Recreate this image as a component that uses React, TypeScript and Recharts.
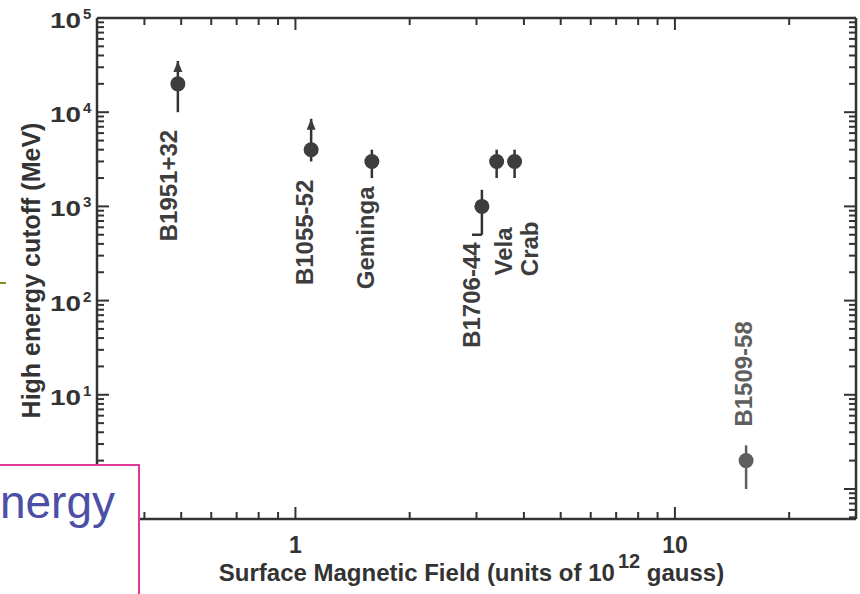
import { ScatterChart, Scatter, XAxis, YAxis, ErrorBar, ReferenceLine } from 'recharts'

// pulsars, surface field (1e12 G) and high-energy cutoff (MeV)
const pulsars = ['B1951+32', 'B1055-52', 'Geminga', 'B1706-44', 'Vela', 'Crab', 'B1509-58']
const fieldB12 = [0.49, 1.1, 1.59, 3.1, 3.39, 3.78, 15.4]
const cutoffMeV = [20000, 4000, 3000, 1000, 3000, 3000, 2]
const errLow = [10000, 1000, 1000, 500, 1000, 1000, 1]
const errHigh = [15000, 4500, 1000, 500, 1000, 1000, 0.9]
const lowerLimit = [true, true, false, false, false, false, false]

// where each name sits relative to its dot (px), and which way the text runs
const labelDx = [-1, 2, 2, -2, 15, 23, 6]
const labelDy = [46, 30, 25, 36, 66, 60, -34]
const labelBelow = [true, true, true, true, true, true, false]

const xMajor = [1, 10]
const yMajor = [1, 10, 100, 1000, 10000, 100000]
// 10^0 sits under the slide box, so it gets no label
const yLabelled = [10, 100, 1000, 10000, 100000]

const logTicks = (lo: number, hi: number) => {
  const out: number[] = []
  for (let e = lo; e <= hi; e++) for (let m = 1; m <= 9; m++) out.push(+(m * 10 ** e).toPrecision(2))
  return out
}
const xTicks = logTicks(-1, 1).filter((v) => v >= 0.4 && v <= 20)
const yTicks = logTicks(-1, 5).filter((v) => v >= 0.5 && v <= 100000)

const FONT = '"Liberation Sans", Arial, sans-serif'
const INK = '#333'
const DOT = '#3d3d3d'
const FADED = '#5e5e5e'

const points = pulsars.map((name, i) => ({
  name,
  field: fieldB12[i],
  cutoff: cutoffMeV[i],
  err: [errLow[i], errHigh[i]],
  dx: labelDx[i],
  dy: labelDy[i],
  below: labelBelow[i],
}))
const mainPoints = points.filter((p) => p.name !== 'B1509-58')
const fadedPoints = points.filter((p) => p.name === 'B1509-58')
const arrows = points.filter((_, i) => lowerLimit[i]).map((p) => ({ field: p.field, cutoff: p.cutoff + p.err[1] }))

const isIn = (v: number, list: number[]) => list.some((m) => Math.abs(m - v) < 1e-9 * m)

function BottomTick({ x, y, payload }: any) {
  const major = isIn(payload.value, xMajor)
  return (
    <g>
      <line x1={x} x2={x} y1={y} y2={y - (major ? 12 : 7)} stroke={INK} strokeWidth={2} />
      {major && (
        <text x={x} y={y + 34} textAnchor="middle" fontSize={23} fontWeight="bold" fill={INK} fontFamily={FONT}>
          {payload.value}
        </text>
      )}
    </g>
  )
}

function TopTick({ x, y, payload }: any) {
  const major = isIn(payload.value, xMajor)
  return <line x1={x} x2={x} y1={y} y2={y + (major ? 12 : 7)} stroke={INK} strokeWidth={2} />
}

function LeftTick({ x, y, payload }: any) {
  const major = isIn(payload.value, yMajor)
  return (
    <g>
      <line x1={x} x2={x + (major ? 12 : 7)} y1={y} y2={y} stroke={INK} strokeWidth={2} />
      {isIn(payload.value, yLabelled) && (
        <g fontFamily={FONT} fontWeight="bold" fill={INK}>
          <text x={x - 47} y={y + 10} fontSize={22} textLength={31} lengthAdjust="spacingAndGlyphs">
            10
          </text>
          <text x={x - 14} y={y + 1} fontSize={15}>
            {Math.round(Math.log10(payload.value))}
          </text>
        </g>
      )}
    </g>
  )
}

function RightTick({ x, y, payload }: any) {
  const major = isIn(payload.value, yMajor)
  return <line x1={x} x2={x - (major ? 12 : 7)} y1={y} y2={y} stroke={INK} strokeWidth={2} />
}

const makePoint = (fill: string) => (props: any) => {
  const { cx, cy, payload } = props
  const tx = cx + payload.dx
  const ty = cy + payload.dy
  return (
    <g>
      <circle cx={cx} cy={cy} r={7.5} fill={fill} />
      <text
        x={tx}
        y={ty}
        transform={`rotate(-90 ${tx} ${ty})`}
        textAnchor={payload.below ? 'end' : 'start'}
        fontSize={24}
        fontWeight="bold"
        fill={fill}
        fontFamily={FONT}
      >
        {payload.name}
      </text>
    </g>
  )
}

const Arrow = ({ cx, cy }: any) => <path d={`M${cx},${cy} L${cx - 4.5},${cy + 11} L${cx + 4.5},${cy + 11} Z`} fill={DOT} />

function XTitle({ viewBox }: any) {
  const cx = viewBox.x + viewBox.width / 2 - 5
  return (
    <text x={cx} y={581} textAnchor="middle" fontSize={24} fontWeight="bold" fill={INK} fontFamily={FONT}>
      <tspan>Surface Magnetic Field (units of 10</tspan>
      <tspan dx={3} dy={-13} fontSize={20}>12</tspan>
      <tspan dy={13}> gauss)</tspan>
    </text>
  )
}

function YTitle({ viewBox }: any) {
  const cy = viewBox.y + viewBox.height / 2 + 2
  return (
    <text
      x={40}
      y={cy}
      transform={`rotate(-90 40 ${cy})`}
      textAnchor="middle"
      fontSize={25}
      fontWeight="bold"
      fill={INK}
      fontFamily={FONT}
    >
      High energy cutoff (MeV)
    </text>
  )
}

const axisLine = { stroke: INK, strokeWidth: 2.5 }
const barProps = { width: 0, stroke: INK, strokeWidth: 2.5 }

export default function App() {
  return (
    <div style={{ position: 'absolute', left: 0, top: 0, width: 860, height: 594, background: '#fff' }}>
      <ScatterChart width={860} height={594} margin={{ top: 17, right: 3, bottom: 0, left: 0 }}>
        <XAxis
          xAxisId="b"
          type="number"
          dataKey="field"
          scale="log"
          domain={[0.3, 30]}
          allowDataOverflow
          ticks={xTicks}
          interval={0}
          tick={BottomTick}
          tickSize={0}
          tickMargin={0}
          tickLine={false}
          axisLine={axisLine}
          height={75}
          label={<XTitle />}
        />
        <XAxis
          xAxisId="t"
          orientation="top"
          type="number"
          dataKey="field"
          scale="log"
          domain={[0.3, 30]}
          allowDataOverflow
          ticks={xTicks}
          interval={0}
          tick={TopTick}
          tickSize={0}
          tickMargin={0}
          tickLine={false}
          axisLine={axisLine}
          height={1}
        />
        <YAxis
          yAxisId="l"
          type="number"
          dataKey="cutoff"
          scale="log"
          domain={[0.48, 100000]}
          allowDataOverflow
          ticks={yTicks}
          interval={0}
          tick={LeftTick}
          tickSize={0}
          tickMargin={0}
          tickLine={false}
          axisLine={axisLine}
          width={97}
          label={<YTitle />}
        />
        <YAxis
          yAxisId="r"
          orientation="right"
          type="number"
          dataKey="cutoff"
          scale="log"
          domain={[0.48, 100000]}
          allowDataOverflow
          ticks={yTicks}
          interval={0}
          tick={RightTick}
          tickSize={0}
          tickMargin={0}
          tickLine={false}
          axisLine={axisLine}
          width={1}
        />
        <ReferenceLine
          xAxisId="b"
          yAxisId="l"
          segment={[{ x: 2.92, y: 500 }, { x: 3.1, y: 500 }]}
          stroke={INK}
          strokeWidth={2.5}
        />
        <Scatter xAxisId="b" yAxisId="l" data={mainPoints} shape={makePoint(DOT)} isAnimationActive={false}>
          <ErrorBar dataKey="err" direction="y" {...barProps} />
        </Scatter>
        <Scatter xAxisId="b" yAxisId="l" data={fadedPoints} shape={makePoint(FADED)} isAnimationActive={false}>
          <ErrorBar dataKey="err" direction="y" {...barProps} stroke={FADED} />
        </Scatter>
        <Scatter xAxisId="b" yAxisId="l" data={arrows} shape={Arrow} isAnimationActive={false} />
      </ScatterChart>
      <svg width={860} height={594} style={{ position: 'absolute', left: 0, top: 0, pointerEvents: 'none' }}>
        <rect x={-10} y={465} width={149} height={140} fill="#fff" stroke="#e03a96" strokeWidth={2} />
        <text x={115} y={518} textAnchor="end" fontSize={46} fill="#4b4fa6" fontFamily={FONT}>
          nergy
        </text>
        <line x1={0} x2={6} y1={283} y2={283} stroke="#8c8c2a" strokeWidth={2} />
      </svg>
    </div>
  )
}
